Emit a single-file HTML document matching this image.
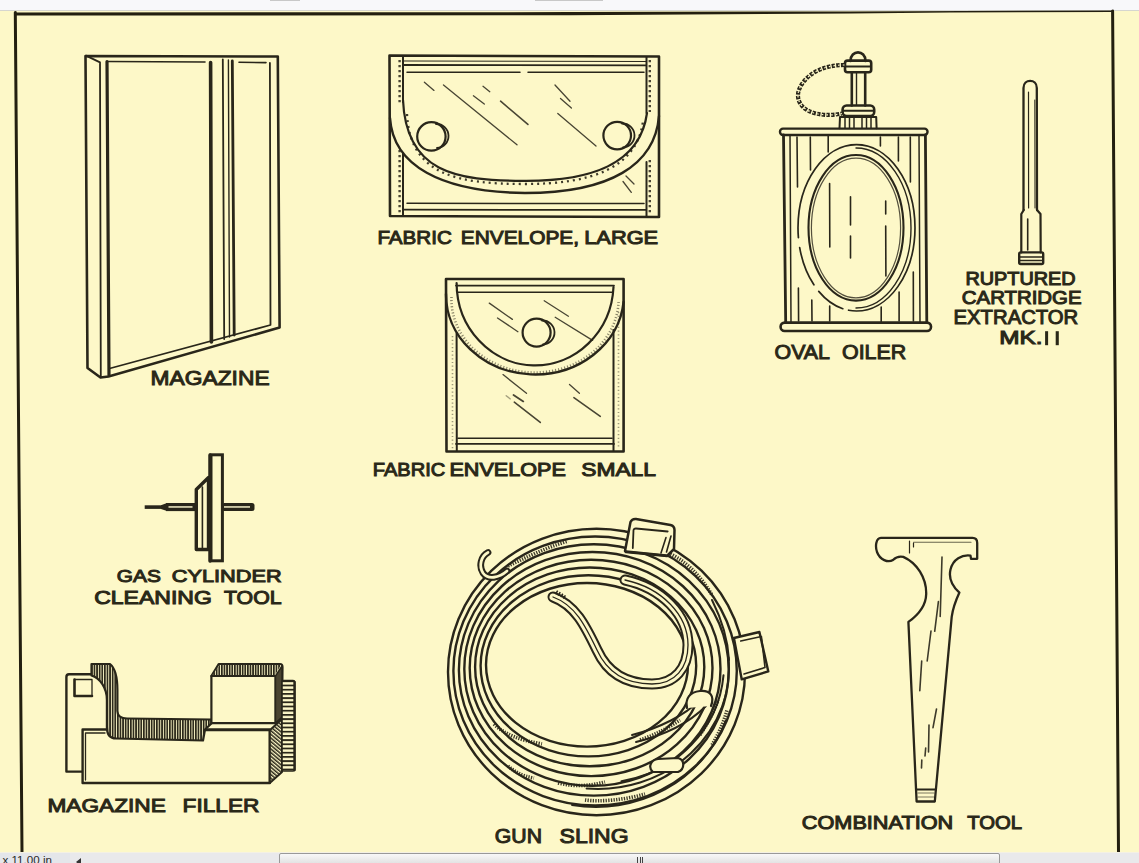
<!DOCTYPE html>
<html><head><meta charset="utf-8">
<style>
html,body{margin:0;padding:0;width:1139px;height:863px;overflow:hidden;background:#fdf8c8;}
#top{position:absolute;left:0;top:0;width:1139px;height:10px;background:#f8f8fa;border-bottom:1px solid #d6d6d0;}
#bar{position:absolute;left:0;top:852px;width:1139px;height:11px;background:#e9e9eb;border-top:1px solid #f4f1e4;}
#stat{position:absolute;left:0;top:0;width:70px;height:11px;background:#e4e6ea;font:11.6px "Liberation Sans",sans-serif;color:#2a2a2a;}
#stat span{position:absolute;left:2.5px;top:-0.5px;white-space:nowrap;}
#arrow{position:absolute;left:76px;top:5px;width:0;height:0;border-top:4px solid transparent;border-bottom:4px solid transparent;border-right:5px solid #333;}
#thumb{position:absolute;left:279px;top:0px;width:719px;height:12px;border:1px solid #999;border-radius:2px;background:linear-gradient(#f8f8f8,#dcdcdc);}
#grip{position:absolute;left:357px;top:3px;width:6px;height:8px;background:repeating-linear-gradient(90deg,#444 0 1px,transparent 1px 2.5px);}
svg{position:absolute;left:0;top:0;}
text{font-family:"Liberation Sans",sans-serif;font-weight:normal;fill:#2a2818;stroke:#2a2818;stroke-width:1.0px;}
</style></head><body>
<div id="top"><div style="position:absolute;left:270px;top:0;width:30px;height:1px;background:#c8c8c8"></div><div style="position:absolute;left:535px;top:0;width:68px;height:1px;background:#c8c8c8"></div></div>
<svg width="1139" height="863" viewBox="0 0 1139 863">
<g fill="none" stroke="#231f10" stroke-linecap="round" stroke-linejoin="round">
<!-- frame -->
<path d="M14 12.4 L570 12.1 L850 11.4 L1113 10.4 L1113 12 L950 12.5 L850 13.4 L570 15.3 L14 15.6 Z" fill="#231f10" stroke="none"/>
<path d="M15.3 12.5 L22 852" stroke-width="3"/>
<path d="M1112.6 11 L1118.5 852" stroke-width="3"/>
</g>
<defs>
<pattern id="hv" width="2.6" height="10" patternUnits="userSpaceOnUse"><rect x="0" y="0" width="2.6" height="10" fill="#fdf8c8"/><rect x="0" y="0" width="1.7" height="10" fill="#2a2719"/></pattern>
<pattern id="hh" width="10" height="4.2" patternUnits="userSpaceOnUse"><rect x="0" y="0" width="10" height="4.2" fill="#fdf8c8"/><rect x="0" y="0" width="10" height="1.8" fill="#2a2719"/></pattern>
<pattern id="hd" width="2.8" height="2.8" patternUnits="userSpaceOnUse" patternTransform="rotate(-50)"><rect width="2.8" height="2.8" fill="#fdf8c8"/><rect width="1.5" height="2.8" fill="#2a2719"/></pattern>
</defs>
<!-- MAGAZINE FILLER -->
<g id="filler" fill="none" stroke="#29261a" stroke-linecap="round" stroke-linejoin="round">
<path d="M91.5 674.2 L69 674.2 Q66.4 674.2 66.4 677 L66.4 771.6 L82.6 771.6" stroke-width="2.4"/>
<path d="M74.5 679.5 L74.5 696 L92 696" stroke-width="2.6"/>
<path d="M74.5 679.5 L92 679.5 L92 696" stroke-width="1.3"/>
<rect x="82.6" y="729.5" width="187.2" height="53.5" fill="#fdf8c8" stroke-width="2.4"/>
<path d="M85.5 733 L85.5 780 M85.5 733 L105 733" stroke-width="1.3"/>
<path d="M203 730.3 L269.8 730.3" stroke-width="2"/>
<path d="M91.5 664 L110 664 C 115 668, 117.4 678, 117.4 690 L117.4 711 C117.4 716, 121 718.3, 127 718.5 L211.4 719.5 L211.4 723.5 L205 729.5 L203 740.5 L116 738.5 C 110 738.5, 106.9 734, 106.9 727 L106.9 700 C 106.9 688, 100 678, 91.5 675.5 Z" fill="url(#hv)" stroke-width="2.2"/>
<path d="M211.4 676 L218.7 664 L280 664 Q282.5 664 282.5 667 L282 717 L275.5 723.2 L211.4 723.2 Z" fill="#fdf8c8" stroke-width="2.2"/>
<path d="M212.5 675 L219.5 665 L281 665 L275 675 Z" fill="url(#hv)" stroke="none"/>
<path d="M211.4 676 L275.5 676 L275.5 723" stroke-width="2.2"/>
<path d="M275.5 676 L282 666 L282 717 L275.5 723 Z" fill="#4a4430" stroke-width="1.4"/>
<path d="M269.8 730.3 L282 719 L282 772 L269.8 783 Z" fill="url(#hd)" stroke-width="2"/>
<rect x="282" y="680.5" width="12.6" height="90.5" rx="1.5" fill="url(#hh)" stroke-width="1.6"/>
<path d="M294.6 682 L294.6 770" stroke-width="2.4"/>
</g>
<!-- GUN SLING -->
<g id="sling" fill="none" stroke="#29261a" stroke-linecap="round" stroke-linejoin="round">
<g stroke-width="2.4">
<ellipse cx="596.5" cy="672.0" rx="148.5" ry="143.3"/>
<ellipse cx="595.1" cy="671.0" rx="141.7" ry="134.5"/>
<ellipse cx="593.8" cy="669.9" rx="134.9" ry="125.7"/>
<ellipse cx="592.4" cy="668.9" rx="128.1" ry="116.9"/>
<ellipse cx="591.1" cy="667.9" rx="121.4" ry="108.2"/>
<ellipse cx="589.7" cy="666.9" rx="114.6" ry="99.4"/>
<ellipse cx="588.4" cy="665.8" rx="107.8" ry="90.6"/>
<ellipse cx="587.0" cy="664.8" rx="101.0" ry="81.8"/>
</g>
<g stroke-width="2">
<path d="M728.5 657.5 A 131 121 0 0 1 586.6 788.5"/>
<path d="M723.5 675.3 A 124 118 0 0 1 621.5 781.2"/>
<path d="M725.7 720.8 A 138 131 0 0 1 572 805"/>
<path d="M700 700 C 685 715, 660 728, 632 735"/>
<path d="M706 706 C 690 722, 665 735, 636 742"/>
<path d="M712 600 C 722 620, 728 640, 729 660"/>
</g>
<g stroke-width="3.6" stroke-dasharray="1.3 1.3" stroke-linecap="butt" opacity="0.9">
<path d="M494 724 C 505 735, 520 740, 542 744"/>
<path d="M508 766 C 515 772, 522 776, 534 778"/>
<path d="M558 783 C 575 787, 590 786, 605 782"/>
<path d="M585 800 C 600 802, 625 800, 645 794"/>
<path d="M700 735 C 708 722, 714 712, 718 700"/>
<path d="M712 745 C 718 735, 724 722, 727 710"/>
<path d="M640 740 C 655 735, 668 728, 680 720"/>
<path d="M668 553 C 685 560, 700 575, 712 595"/>
<path d="M508 566 C 525 558, 545 548, 568 541"/>
</g>
<path d="M553 597 C 575 605, 585 625, 597 650 C 607 672, 625 684, 652 684 C 675 684, 688 668, 688 645 C 688 615, 662 588, 625 580" stroke-width="11"/>
<path d="M553 597 C 575 605, 585 625, 597 650 C 607 672, 625 684, 652 684 C 675 684, 688 668, 688 645 C 688 615, 662 588, 625 580" stroke="#fdf8c8" stroke-width="7"/>
<path d="M553 597 C 575 605, 585 625, 597 650 C 607 672, 625 684, 652 684 C 675 684, 688 668, 688 645 C 688 615, 662 588, 625 580" stroke-width="1.3"/>
<path d="M556 592 L566 598" stroke-width="4" stroke-dasharray="1.5 1.5" stroke-linecap="butt"/>
<!-- hook -->
<path d="M507 571 C 499 578, 488 580, 483 573 C 478.5 566, 481 556, 488 552.5" stroke-width="6.8"/>
<path d="M507 571 C 499 578, 488 580, 483 573 C 478.5 566, 481 556, 488 552.5" stroke="#fdf8c8" stroke-width="2.8"/>
<!-- keepers -->
<path d="M687 708 C 685 698, 690 692, 700 691 C 710 690, 715 696, 711 706" fill="#fdf8c8" stroke-width="2.2"/>
<path d="M653 772 C 648 768, 650 760, 658 759 L 678 758 C 685 760, 685 769, 678 772 Z" fill="#fdf8c8" stroke-width="2.2"/>
<!-- buckles -->
<path d="M625 551 L630.5 522 Q632 518.6 636 519 L670.5 525 Q674.5 526 674.5 530 L674 549 L667 556 L626 552 Z" fill="#fdf8c8" stroke-width="2.5"/>
<path d="M632.8 548 L633.5 530 Q634 528.4 636 528.5 L667.7 531.5" stroke-width="1.8"/>
<path d="M661 553 L666 537.6 M666.5 552 L671 536" stroke-width="1.6"/>
<path d="M626 551.5 L666 555.5" stroke-width="2.6"/>
<path d="M733.9 638 L759.4 632 L768.3 671.4 L741.7 679.3 Z" fill="#fdf8c8" stroke-width="2.4"/>
<path d="M740.7 641 L761.4 636.5 L765 667.5 L744 674" stroke-width="1.6"/>
</g>
<!-- COMBINATION TOOL -->
<g id="comb" fill="none" stroke="#29261a" stroke-linecap="round" stroke-linejoin="round">
<path d="M881 537.8 L972.5 537.8 Q977.2 537.8 977.2 543 L977.2 558.8 L971 558.8 L970.5 555.6 C 962 554.5, 953 559, 950.5 569.6 C 948.5 578, 951 585, 959.4 592.6 C 956 600, 953 608, 951.7 616.8 L934.8 801.5 L916.6 801.5 L908.4 621.9 C 918 615, 926 605, 926.2 593.9 C 926.5 578, 917 563, 903.3 556.9 C 899 556, 896 557, 893 560 C 888 563, 880 560, 877 552 C 875 546, 876 538, 881 537.8 Z" stroke-width="2.3"/>
<path d="M916.2 789.5 L935.8 789.5" stroke-width="1.8"/>
<path d="M913.5 542.2 L971 542.2" stroke-width="1.1" opacity="0.7"/>
<path d="M918 793 L934 793 M918 797 L934 797" stroke-width="1.2" opacity="0.6"/>
<path d="M909.5 541 L909.5 553 M913.5 543 L913.5 547" stroke-width="1.2"/>
<g stroke-width="1.6" opacity="0.9">
<path d="M942 557 L940.2 616.4"/>
<path d="M938.4 601.6 L934.7 631.3"/>
<path d="M931 631 L927.2 661"/>
<path d="M921.7 661 L919.8 690.6"/>
<path d="M936.5 709 L933 727.7"/>
<path d="M929 725 L928.5 752"/>
<path d="M925.7 748 L925 756"/>
<path d="M921.8 760 L921.5 768"/>
</g>
</g>
<!-- MAGAZINE -->
<g id="mag" fill="none" stroke="#29261a" stroke-linecap="round" stroke-linejoin="round">
<path d="M85.5 56 L87.5 368 L100.5 377.5 L108.5 376.5 L279.6 327.5 L277.8 56.5 Z" stroke-width="2.6"/>
<path d="M86 55.6 L100 62.4 L100.8 377" stroke-width="1.8"/>
<path d="M107 61.5 L109 375.5" stroke-width="3.2"/>
<path d="M107 61.5 L205 62" stroke-width="1.6"/>
<path d="M239 62.3 L266 62.6" stroke-width="1.6"/>
<path d="M109.5 368.5 L270.5 325 L269.9 63" stroke-width="1.8"/>
<path d="M210.6 62.5 L211.4 342" stroke-width="3.6"/>
<path d="M222.8 59.5 L224.2 339" stroke-width="1.8"/>
<path d="M228.4 60 L229.5 337" stroke-width="1.4"/>
<path d="M232.3 61 L234.2 335" stroke-width="2.8"/>
</g>
<!-- FABRIC ENVELOPE LARGE -->
<g id="envL" fill="none" stroke="#29261a" stroke-linecap="round" stroke-linejoin="round">
<path d="M389.5 55.5 L659 56.5 L659 217 L390 216 Z" stroke-width="2.6"/>
<path d="M403 57 L403 102 M403 153 L403 215 M646.5 57 L646.5 113 M646.5 162 L646.5 216" stroke-width="2"/>
<path d="M399.6 60 L399.6 104 M399.6 150 L399.6 213 M649.8 60 L649.8 112 M649.8 160 L649.8 213" stroke-width="2.4" stroke-dasharray="2.2 2.8" stroke-linecap="butt" opacity="0.85"/>
<path d="M403 61 L646 61.5" stroke-width="1"/>
<path d="M403 65 L646 65.3" stroke-width="1.8"/>
<path d="M407 72.2 L520 72.2 M528 72.2 L644 72.2" stroke-width="1.5"/>
<path d="M407 203.3 L644 203.6" stroke-width="1.5"/>
<path d="M403 209.7 L646 209.9" stroke-width="1.8"/>
<path d="M390 118 C 393 165, 440 192, 525 193 C 610 193, 655 165, 659 116" stroke-width="2.4"/>
<path d="M403 100 C 406 172, 455 181, 525 180.8 C 590 181, 640 165, 647 113" stroke-width="2.2"/>
<path d="M407 114 C 410 175, 457 184, 525 184 C 592 184, 637 168, 643 121" stroke-width="2.3" stroke-dasharray="2 4" stroke-linecap="butt" opacity="0.9"/>
<circle cx="431.4" cy="136.4" r="14.2" stroke-width="2.2"/>
<path d="M436 124 A 11 11 0 0 1 437 148" stroke-width="1.8"/>
<circle cx="617.2" cy="135.6" r="13.8" stroke-width="2.2"/>
<path d="M622 123.5 A 11 11 0 0 1 623 147.5" stroke-width="1.8"/>
<g stroke-width="1.3" opacity="0.85">
<path d="M424.4 82.2 L434 90.4"/>
<path d="M443.5 85 L517 144.8"/>
<path d="M473.4 95.8 L484.3 104"/>
<path d="M483 86.3 L489.8 91.7"/>
<path d="M500.6 101.2 L527.9 124.4" stroke-width="1.6"/>
<path d="M555 85 L570 101.2"/>
<path d="M560.5 98.5 L571.4 108"/>
<path d="M557.8 113.5 L596 146"/>
<path d="M623 181.5 L631.3 192.4"/>
<path d="M626 176 L634 184"/>
</g>
</g>
<!-- FABRIC ENVELOPE SMALL -->
<g id="envS" fill="none" stroke="#29261a" stroke-linecap="round" stroke-linejoin="round">
<path d="M446 279 L623.6 279 L623.6 451.5 L446.5 451.5 Z" stroke-width="2.6"/>
<path d="M456.6 333 L456.8 451 M613.5 330 L613.5 451" stroke-width="2"/>
<path d="M452.5 336 L452.5 449 M618.5 312 L618.5 449" stroke-width="1.6" stroke-dasharray="1.2 2.5" stroke-linecap="butt" opacity="0.45"/>
<path d="M456 285.6 L614 285.6" stroke-width="1.8"/>
<path d="M458 292.2 L612 292.2" stroke-width="1.6"/>
<path d="M458 438.3 L612 438.3" stroke-width="1.6"/>
<path d="M456 443.9 L614 443.9" stroke-width="1.8"/>
<path d="M446 294 A 89 80 0 0 0 623.6 302" stroke-width="2.4"/>
<path d="M456.6 283 A 78.5 82.6 0 0 0 613.5 287" stroke-width="2.2"/>
<path d="M451.5 297 A 83.5 73 0 0 0 618.5 302" stroke-width="2.6" stroke-dasharray="1.1 2" stroke-linecap="butt" opacity="0.55"/>
<circle cx="536.6" cy="332.6" r="14" stroke-width="2.2"/>
<path d="M542 320.5 A 11 11 0 0 1 543 344.5" stroke-width="1.8"/>
<g stroke-width="1.3" opacity="0.85">
<path d="M489.3 303.1 L512.4 319.4"/>
<path d="M497.5 318 L517.9 331.7"/>
<path d="M544.2 300.8 L568.4 316.2"/>
<path d="M555.2 317.3 L592.6 340.4"/>
<path d="M503 374.6 L526.5 393.3"/>
<path d="M513.5 394.9 L523.3 401.4" stroke-width="1.8"/>
<path d="M506.2 395.7 L510.3 398.9" opacity="0.5"/>
<path d="M514.3 402.2 L540.3 422.4" stroke-width="1.6"/>
<path d="M569.5 384.4 L579.4 393.2"/>
<path d="M573.9 397.6 L600.3 416.3" stroke-width="1.6"/>
</g>
</g>
<!-- OVAL OILER -->
<g id="oiler" fill="none" stroke="#29261a" stroke-linecap="round" stroke-linejoin="round">
<rect x="780" y="128.6" width="147.5" height="6.4" rx="3" stroke-width="2.4"/>
<rect x="780.6" y="322.6" width="150.4" height="8.4" rx="4" stroke-width="2.6"/>
<path d="M783.5 135 L785.7 322.5 M925.4 135 L926.8 322.5" stroke-width="2.8"/>
<path d="M790 135 L791 322 M919 135 L920 322" stroke-width="1.5"/>
<g stroke-width="1.6">
<path d="M797 137 L797.5 187 M810.3 137 L810.5 170 M828.2 135.5 L828.2 152 M880.4 137 L880.4 146 M898.4 137 L898.4 161 M910.3 137 L910.4 182"/>
<path d="M798.4 288 L798.6 321 M811.8 300 L812 321 M829.7 306 L829.7 321 M881.2 307 L881.2 322 M899.1 292 L899.1 321 M913.3 272 L913.4 321"/>
<path d="M829.6 183.5 L829.8 247 M850.5 196.7 L850.5 225 M850.5 236 L850.5 258 M885.7 201 L885.7 214 M885.7 226 L885.9 276"/>
</g>
<ellipse cx="856.5" cy="227.8" rx="58.5" ry="83.2" stroke-width="1.7" stroke-dasharray="120 6 30 8 40 10 400"/>
<path d="M856 148 A 55 80 0 0 1 856 308" stroke-width="1.4"/>
<ellipse cx="856" cy="227.8" rx="47.5" ry="72.8" stroke-width="2.1"/>
<ellipse cx="856" cy="228" rx="44.6" ry="69.8" stroke-width="1.2" opacity="0.8"/>
<!-- neck -->
<path d="M839.5 128.3 L840 117 L876.2 117 L876.6 128.3" stroke-width="2"/>
<path d="M845 118 L845 128 M849.5 118 L849.5 128 M854 118 L854 128 M862 118 L862 128 M866.5 118 L866.5 128 M871 118 L871 128" stroke-width="1.5"/>
<rect x="842.6" y="105.5" width="31.6" height="10.6" rx="4" stroke-width="2.6"/>
<path d="M844 110.8 L873 110.8" stroke-width="2"/>
<path d="M851.8 72.5 L851.8 105.5 M865.2 72.5 L865.2 105.5" stroke-width="2.6"/>
<path d="M856.5 73 L856.5 105" stroke-width="1.4"/>
<rect x="845" y="60.6" width="26.2" height="11.6" rx="2.5" stroke-width="2.6"/>
<path d="M846 66.5 L870 66.5" stroke-width="2.2"/>
<path d="M850.5 61 C 850.5 49.5, 865.5 49.5, 865.5 61" stroke-width="2.6"/>
<!-- gas cylinder tool (placed here for shared style) -->
<g id="gas">
<rect x="144.7" y="505.3" width="17" height="3.6" fill="#29261a" stroke="none"/>
<path d="M161 505.3 L167 503 L167 511.1 L161 508.9 Z" fill="#29261a" stroke="none"/>
<rect x="166" y="503" width="29" height="8.1" fill="#29261a" stroke="none"/>
<rect x="168.5" y="506.2" width="24" height="1.5" fill="#f4efc8" stroke="none"/>
<rect x="222" y="503" width="32.5" height="8.1" rx="2.5" fill="#29261a" stroke="none"/>
<rect x="224" y="506.2" width="26" height="1.5" fill="#f4efc8" stroke="none"/>
<path d="M196.3 489.5 L208.5 477.5 L208.5 549.5 L196.3 549.5 Z" fill="#fdf8c8" stroke-width="3.4"/>
<path d="M202.4 487 L202.4 548" stroke-width="1.6"/>

<rect x="211" y="454.8" width="11.4" height="106" fill="#fdf8c8" stroke-width="3" stroke-linejoin="miter"/>
<path d="M210 455 L210 561" stroke-width="3.5"/>
</g>
<!-- extractor -->
<path d="M1023.5 210 L1023.5 88 C 1023.5 78.5, 1036.8 78.5, 1036.8 88 L1037 210" stroke-width="2.3"/>
<path d="M1028.5 92 L1028.6 208" stroke-width="1.2"/>
<path d="M1034.8 100 L1035 208" stroke-width="1"/>
<path d="M1023.8 210 L1021.3 214 L1021.3 252.5 M1037 210 L1040.5 214 L1040.7 252.5" stroke-width="2.2"/>
<path d="M1027.7 219 L1027.7 250" stroke-width="1.6"/>
<rect x="1019.2" y="252.4" width="24" height="11.6" rx="1.5" stroke-width="2.4"/>
<path d="M1020 257 L1042 257 M1020 260.5 L1042 260.5" stroke-width="1.5"/>
<!-- chain -->
<path d="M844.5 65 C 825 65, 810 72, 802 84 C 793 97, 800 109, 814 113 C 825 116, 835 115, 842 113.5" stroke-width="4.2" stroke-dasharray="3.4 1.3" stroke-linecap="butt"/>
<path d="M844.5 65 C 825 65, 810 72, 802 84 C 793 97, 800 109, 814 113 C 825 116, 835 115, 842 113.5" stroke="#fdf8c8" stroke-width="1.2" stroke-dasharray="1.6 3.1" stroke-linecap="butt"/>
</g>
<g id="labels">
<text x="150.60" y="385.00" font-size="20.60" textLength="119.00" lengthAdjust="spacingAndGlyphs">MAGAZINE</text>
<text x="377.40" y="243.60" font-size="18.77" textLength="74.40" lengthAdjust="spacingAndGlyphs">FABRIC</text>
<text x="460.80" y="243.60" font-size="18.77" textLength="118.20" lengthAdjust="spacingAndGlyphs">ENVELOPE,</text>
<text x="584.20" y="243.60" font-size="18.77" textLength="74.00" lengthAdjust="spacingAndGlyphs">LARGE</text>
<text x="372.80" y="476.00" font-size="18.55" textLength="72.40" lengthAdjust="spacingAndGlyphs">FABRIC</text>
<text x="449.40" y="476.00" font-size="18.55" textLength="116.40" lengthAdjust="spacingAndGlyphs">ENVELOPE</text>
<text x="581.20" y="476.00" font-size="18.55" textLength="74.80" lengthAdjust="spacingAndGlyphs">SMALL</text>
<text x="774.60" y="358.80" font-size="20.37" textLength="55.40" lengthAdjust="spacingAndGlyphs">OVAL</text>
<text x="842.00" y="358.80" font-size="20.37" textLength="64.20" lengthAdjust="spacingAndGlyphs">OILER</text>
<text x="965.40" y="284.80" font-size="17.81" textLength="110.20" lengthAdjust="spacingAndGlyphs">RUPTURED</text>
<text x="961.80" y="303.80" font-size="17.88" textLength="119.80" lengthAdjust="spacingAndGlyphs">CARTRIDGE</text>
<text x="953.60" y="324.00" font-size="19.45" textLength="124.60" lengthAdjust="spacingAndGlyphs">EXTRACTOR</text>
<text x="999.20" y="343.80" font-size="18.04" textLength="43.20" lengthAdjust="spacingAndGlyphs">MK.</text>
<text x="116.80" y="582.20" font-size="17.36" textLength="44.00" lengthAdjust="spacingAndGlyphs">GAS</text>
<text x="171.80" y="582.20" font-size="17.36" textLength="109.80" lengthAdjust="spacingAndGlyphs">CYLINDER</text>
<text x="94.20" y="603.60" font-size="18.33" textLength="117.60" lengthAdjust="spacingAndGlyphs">CLEANING</text>
<text x="224.00" y="603.60" font-size="18.33" textLength="57.60" lengthAdjust="spacingAndGlyphs">TOOL</text>
<text x="47.40" y="811.80" font-size="18.99" textLength="118.40" lengthAdjust="spacingAndGlyphs">MAGAZINE</text>
<text x="182.60" y="811.80" font-size="18.99" textLength="76.80" lengthAdjust="spacingAndGlyphs">FILLER</text>
<text x="494.80" y="843.20" font-size="20.13" textLength="47.20" lengthAdjust="spacingAndGlyphs">GUN</text>
<text x="559.60" y="843.20" font-size="20.13" textLength="69.00" lengthAdjust="spacingAndGlyphs">SLING</text>
<text x="801.80" y="828.80" font-size="18.49" textLength="151.40" lengthAdjust="spacingAndGlyphs">COMBINATION</text>
<text x="967.20" y="828.80" font-size="18.49" textLength="54.80" lengthAdjust="spacingAndGlyphs">TOOL</text>
<rect x="1045.1" y="331.2" width="3" height="14" fill="#2a2818"/>
<rect x="1055.7" y="331.2" width="3.1" height="14" fill="#2a2818"/>
</g>
</svg>
<div id="bar"><div id="stat"><span>x 11.00 in</span></div><div id="arrow"></div><div id="thumb"><div id="grip"></div></div></div>
</body></html>
